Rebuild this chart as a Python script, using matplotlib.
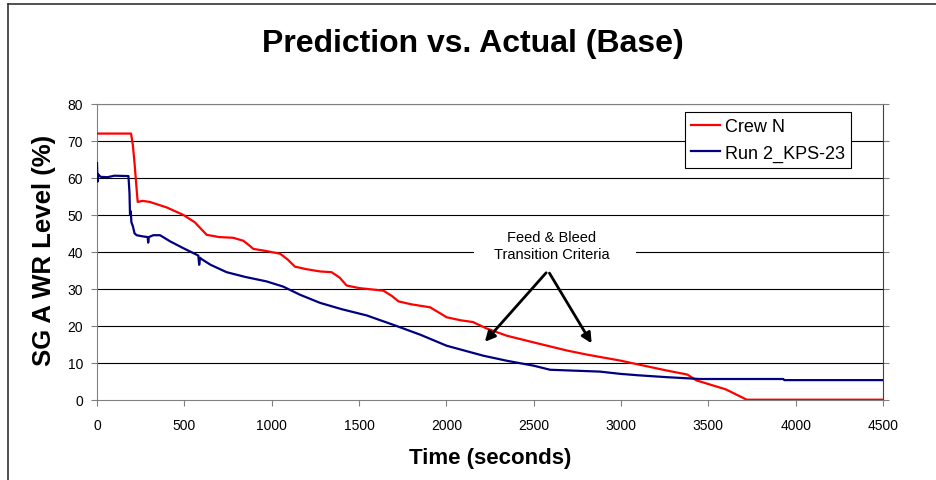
import matplotlib
matplotlib.use("Agg")
import matplotlib.pyplot as plt
from matplotlib.lines import Line2D

plt.rcParams['font.family'] = ['Liberation Sans', 'DejaVu Sans']

# Crew N (prediction)
crew_t = [0, 195, 205, 215, 225, 233, 260, 303, 400, 494, 560, 628, 700, 780, 838, 870, 895, 960,
          1048, 1090, 1133, 1200, 1277, 1343, 1390, 1429, 1500, 1580, 1640, 1690, 1726, 1800, 1907,
          1960, 2002, 2080, 2153, 2229, 2347, 2500, 2691, 2805, 2994, 3261, 3380, 3433, 3600, 3720, 4500]
crew_v = [72, 72, 69, 64, 58, 53.5, 53.8, 53.5, 52, 50, 48, 44.6, 44, 43.8, 43, 41.8, 40.8, 40.3,
          39.5, 38, 36, 35.3, 34.7, 34.5, 33, 30.9, 30.2, 29.8, 29.5, 28, 26.6, 25.8, 25,
          23.5, 22.3, 21.5, 21, 19.3, 17.3, 15.5, 13.3, 12.2, 10.6, 7.9, 6.8, 5.2, 2.8, 0, 0]

# Run 2_KPS-23 (actual)
run_t = [0, 3, 6, 10, 20, 60, 100, 180, 186, 189, 193, 197, 205, 215, 227, 260, 290, 293, 297, 322,
         361, 420, 494, 580, 585, 590, 600, 650, 742, 850, 971, 1066, 1162, 1277, 1400, 1544,
         1700, 1850, 2002, 2212, 2350, 2500, 2594, 2880, 2994, 3100, 3261, 3452, 3929, 3935, 4500]
run_v = [64, 59, 61, 60.8, 60.3, 60.2, 60.6, 60.5, 56, 50, 51, 48, 47, 45, 44.5, 44.2, 44, 42.5, 44, 44.5,
         44.5, 42.8, 41, 39, 36.5, 38.4, 38, 36.5, 34.5, 33.2, 32, 30.6, 28.4, 26.2, 24.5, 22.8,
         20.2, 17.6, 14.6, 11.9, 10.5, 9.2, 8.1, 7.6, 7.0, 6.6, 6.1, 5.6, 5.6, 5.3, 5.3]

x_ticks = [0, 500, 1000, 1500, 2000, 2500, 3000, 3500, 4000, 4500]
y_ticks = [0, 10, 20, 30, 40, 50, 60, 70, 80]

W, H = 937, 481
fig = plt.figure(figsize=(W / 100, H / 100), dpi=100)
ax = fig.add_axes([97 / W, 1 - 400.7 / H, 786 / W, 295.7 / H])

for yv in y_ticks[1:]:
    ax.axhline(yv, color='black', lw=0.8, zorder=1)

ax.plot(crew_t, crew_v, color='#ff0000', lw=1.6, label='Crew N', zorder=3)
ax.plot(run_t, run_v, color='#000080', lw=1.6, label='Run 2_KPS-23', zorder=3)

ax.set_xlim(0, 4500)
ax.set_ylim(0, 80)
ax.set_xticks(x_ticks)
ax.set_yticks(y_ticks)
ax.tick_params(axis='both', labelsize=10, direction='out', length=4, color='#808080', pad=6)
ax.tick_params(axis='x', pad=9)
ax.tick_params(axis='y', right=True, labelright=False)
for s in ['left', 'bottom', 'top']:
    ax.spines[s].set_color('#808080')
ax.spines['right'].set_color('#404040')

fig.text(473 / W, 1 - 44 / H, 'Prediction vs. Actual (Base)', fontsize=23, fontweight='bold',
         ha='center', va='center')
fig.text(490 / W, 1 - 459 / H, 'Time (seconds)', fontsize=16, fontweight='bold',
         ha='center', va='center')
fig.text(44 / W, 1 - 250 / H, 'SG A WR Level (%)', fontsize=18.5, fontweight='bold',
         ha='center', va='center', rotation=90)

leg = ax.legend(loc='upper left', bbox_to_anchor=((685 - 97) / 786, (400.7 - 113) / 295.7),
                fontsize=13, frameon=True, fancybox=False, edgecolor='black', framealpha=1,
                handlelength=1.6, borderpad=0.35, labelspacing=0.5, handletextpad=0.25,
                borderaxespad=0)
leg.get_frame().set_linewidth(0.8)

# white text-box background for the annotation (masks the 40 % grid line)
ax.plot([2158, 3086], [40, 40], color='white', lw=3, zorder=2, solid_capstyle='butt')
ax.text(2605, 41.8, 'Feed & Bleed\nTransition Criteria', ha='center', va='center', fontsize=10.5,
        linespacing=1.3, zorder=4)
ax.annotate('', xy=(2210, 15.1), xytext=(2582, 34.9),
            arrowprops=dict(arrowstyle='-|>', color='black', lw=2, mutation_scale=15), zorder=5)
ax.annotate('', xy=(2840, 14.6), xytext=(2582, 34.9),
            arrowprops=dict(arrowstyle='-|>', color='black', lw=2, mutation_scale=15), zorder=5)

fig.add_artist(Line2D([8 / W, 8 / W], [0, 1 - 5 / H], color='#333333', lw=1.2))
fig.add_artist(Line2D([8 / W, 1], [1 - 5 / H, 1 - 5 / H], color='#333333', lw=1.2))

fig.savefig('out.png', dpi=100)
